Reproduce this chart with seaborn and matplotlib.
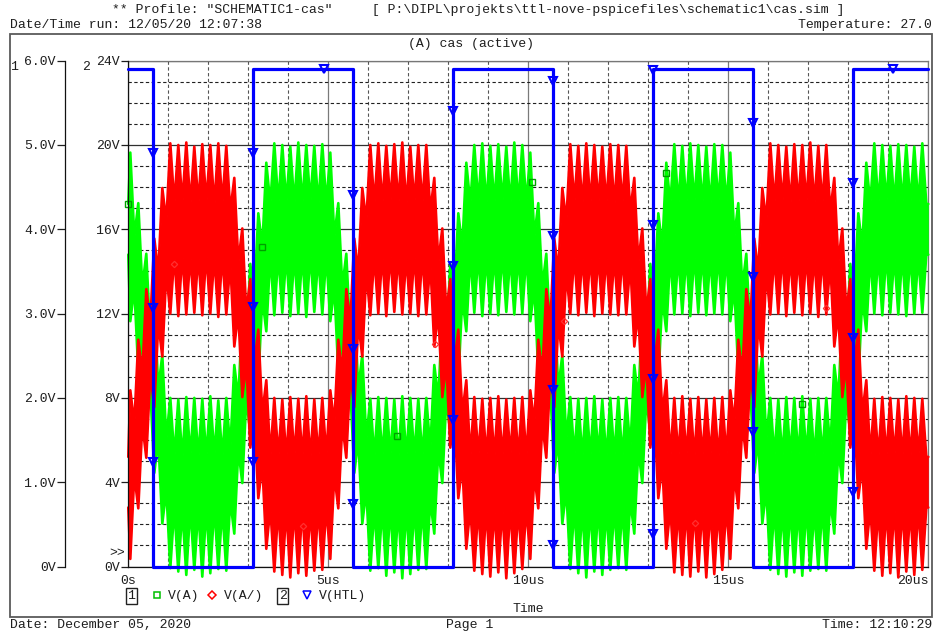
import numpy as np
import pandas as pd
import matplotlib
matplotlib.use("Agg")
import matplotlib.pyplot as plt
from matplotlib.lines import Line2D
from matplotlib.patches import Rectangle
from matplotlib.ticker import MultipleLocator
import seaborn as sns

sns.set_theme(style="white")
plt.rcParams["font.family"] = ["Liberation Mono", "DejaVu Sans Mono"]
plt.rcParams["axes.unicode_minus"] = False

FS = 9.45
INK = "#1e1e1e"

# ---------------------------------------------------------------- data
# Ringing on the TTL outputs, one burst per 0.2 us cycle: the band reaches
# peak/trough at the burst, and narrows around its mid level between bursts.
ring_t0 = 0.05          # us, time of the first burst
ring_period = 0.2       # us
beat_half = 0.30        # V, half width of the band between bursts

# V(A), axis 1 [V]
a_peak = [4.91, 4.31, 3.71, 3.11, 2.51,
          2.00, 1.98, 2.01, 2.00, 1.99, 2.02, 1.97,
          2.00, 2.39, 2.99, 3.59, 4.19, 4.79,
          5.02, 5.00, 4.98, 5.03, 5.00, 4.99, 5.01,
          4.91, 4.31, 3.71, 3.11, 2.51,
          1.99, 2.01, 2.00, 1.98, 2.02, 2.00, 1.99,
          2.00, 2.39, 2.99, 3.59, 4.19, 4.79,
          5.00, 5.02, 4.99, 5.01, 4.98, 5.03, 5.00,
          4.91, 4.31, 3.71, 3.11, 2.51,
          2.01, 1.99, 2.00, 2.02, 1.98, 2.00, 2.01,
          2.00, 2.39, 2.99, 3.59, 4.19, 4.79,
          5.01, 4.99, 5.02, 5.00, 4.98, 5.01, 5.00,
          4.91, 4.31, 3.71, 3.11, 2.51,
          2.00, 1.98, 2.01, 2.00, 2.02, 1.99, 2.00,
          2.00, 2.39, 2.99, 3.59, 4.19, 4.79,
          5.02, 5.00, 4.99, 5.01, 5.00, 4.98, 5.02]
a_trough = [2.91, 2.31, 1.71, 1.11, 0.51,
            -0.02, -0.06, -0.10, -0.04, -0.12, -0.08, -0.03,
            -0.05, 0.39, 0.99, 1.59, 2.19, 2.79,
            2.98, 3.01, 2.97, 3.00, 2.96, 3.02, 2.99,
            2.91, 2.31, 1.71, 1.11, 0.51,
            -0.05, -0.02, -0.11, -0.07, -0.14, -0.09, -0.04,
            -0.03, 0.39, 0.99, 1.59, 2.19, 2.79,
            3.01, 2.97, 3.00, 2.98, 3.02, 2.99, 3.00,
            2.91, 2.31, 1.71, 1.11, 0.51,
            -0.03, -0.08, -0.13, -0.06, -0.10, -0.04, -0.02,
            -0.04, 0.39, 0.99, 1.59, 2.19, 2.79,
            2.99, 3.00, 2.97, 3.01, 2.98, 3.00, 2.99,
            2.91, 2.31, 1.71, 1.11, 0.51,
            -0.04, -0.09, -0.12, -0.07, -0.11, -0.05, -0.03,
            -0.05, 0.39, 0.99, 1.59, 2.19, 2.79,
            3.00, 2.98, 3.01, 2.99, 2.97, 3.00, 3.01]
a_mid = [3.61, 3.01, 2.41, 1.81, 1.21,
         1.00, 0.98, 1.01, 0.99, 1.00, 1.02, 0.99,
         1.09, 1.69, 2.29, 2.89, 3.49, 4.00,
         4.00, 4.01, 3.99, 4.00, 4.02, 3.98, 4.00,
         3.61, 3.01, 2.41, 1.81, 1.21,
         0.99, 1.00, 1.01, 0.98, 1.00, 1.01, 1.00,
         1.09, 1.69, 2.29, 2.89, 3.49, 4.00,
         4.01, 3.99, 4.00, 4.02, 3.99, 4.00, 4.01,
         3.61, 3.01, 2.41, 1.81, 1.21,
         1.01, 0.99, 1.00, 1.02, 0.98, 1.00, 0.99,
         1.09, 1.69, 2.29, 2.89, 3.49, 4.00,
         3.99, 4.00, 4.01, 4.00, 3.98, 4.01, 4.00,
         3.61, 3.01, 2.41, 1.81, 1.21,
         1.00, 0.99, 1.01, 1.00, 1.02, 0.98, 1.00,
         1.09, 1.69, 2.29, 2.89, 3.49, 4.00,
         4.00, 4.02, 3.99, 4.00, 4.01, 3.99, 4.00]
a_start = (4.30, 3.70)
a_end = (4.30, 3.70)

# V(A/), axis 1 [V]
r_peak = [2.09, 2.69, 3.29, 3.89, 4.49,
          5.02, 5.00, 5.03, 4.98, 5.01, 5.00, 5.02,
          4.99, 4.61, 4.01, 3.41, 2.81, 2.21,
          2.00, 1.98, 2.01, 1.99, 2.02, 1.98, 2.00,
          2.09, 2.69, 3.29, 3.89, 4.49,
          5.00, 5.02, 4.99, 5.01, 5.03, 4.98, 5.00,
          5.00, 4.61, 4.01, 3.41, 2.81, 2.21,
          2.01, 1.99, 2.00, 2.02, 1.98, 2.00, 2.01,
          2.09, 2.69, 3.29, 3.89, 4.49,
          5.01, 4.99, 5.02, 5.00, 4.98, 5.01, 5.00,
          4.99, 4.61, 4.01, 3.41, 2.81, 2.21,
          2.00, 2.02, 1.99, 2.01, 1.98, 2.00, 2.01,
          2.09, 2.69, 3.29, 3.89, 4.49,
          5.02, 5.00, 4.98, 5.01, 5.00, 5.03, 4.99,
          5.00, 4.61, 4.01, 3.41, 2.81, 2.21,
          1.99, 2.01, 2.00, 1.98, 2.02, 2.00, 1.99]
r_trough = [0.09, 0.69, 1.29, 1.89, 2.49,
            3.00, 2.97, 2.99, 3.01, 2.98, 3.00, 2.96,
            2.99, 2.61, 2.01, 1.41, 0.81, 0.21,
            -0.06, -0.10, -0.13, -0.08, -0.11, -0.05, -0.04,
            0.09, 0.69, 1.29, 1.89, 2.49,
            2.98, 3.00, 2.97, 3.02, 2.99, 3.00, 2.97,
            2.99, 2.61, 2.01, 1.41, 0.81, 0.21,
            -0.05, -0.09, -0.12, -0.07, -0.14, -0.08, -0.03,
            0.09, 0.69, 1.29, 1.89, 2.49,
            3.00, 2.98, 3.01, 2.97, 3.00, 2.99, 2.98,
            2.99, 2.61, 2.01, 1.41, 0.81, 0.21,
            -0.07, -0.10, -0.12, -0.06, -0.13, -0.09, -0.04,
            0.09, 0.69, 1.29, 1.89, 2.49,
            2.99, 3.00, 2.97, 3.01, 2.98, 3.00, 2.96,
            2.99, 2.61, 2.01, 1.41, 0.81, 0.21,
            -0.05, -0.11, -0.08, -0.13, -0.06, -0.10, -0.04]
r_mid = [1.39, 1.99, 2.59, 3.19, 3.79,
         4.00, 4.01, 3.99, 4.00, 4.02, 3.98, 4.00,
         3.91, 3.31, 2.71, 2.11, 1.51, 1.00,
         1.00, 0.99, 1.01, 1.00, 0.98, 1.00, 1.01,
         1.39, 1.99, 2.59, 3.19, 3.79,
         3.99, 4.00, 4.02, 4.00, 3.98, 4.01, 4.00,
         3.91, 3.31, 2.71, 2.11, 1.51, 1.00,
         1.01, 1.00, 0.99, 1.00, 1.02, 0.99, 1.00,
         1.39, 1.99, 2.59, 3.19, 3.79,
         4.01, 3.99, 4.00, 4.01, 4.00, 3.98, 4.00,
         3.91, 3.31, 2.71, 2.11, 1.51, 1.00,
         1.00, 1.01, 0.99, 1.00, 1.01, 0.98, 1.00,
         1.39, 1.99, 2.59, 3.19, 3.79,
         4.00, 4.02, 3.99, 4.00, 4.01, 3.99, 4.00,
         3.91, 3.31, 2.71, 2.11, 1.51, 1.00,
         0.99, 1.00, 1.01, 1.00, 0.99, 1.01, 1.00]
r_start = (1.30, 0.70)
r_end = (1.30, 0.70)

# V(HTL), axis 2 [V]
htl_t = [0.0, 0.62, 0.62, 3.12, 3.12, 5.62, 5.62, 8.12, 8.12,
         10.62, 10.62, 13.12, 13.12, 15.62, 15.62, 18.12, 18.12, 20.0]
htl_v = [23.6, 23.6, 0.0, 0.0, 23.6, 23.6, 0.0, 0.0, 23.6,
         23.6, 0.0, 0.0, 23.6, 23.6, 0.0, 0.0, 23.6, 23.6]

x_ticks = [0, 5, 10, 15, 20]
x_labels = ["0s", "5us", "10us", "15us", "20us"]
y1_ticks = [0, 1, 2, 3, 4, 5, 6]
y1_labels = ["0V", "1.0V", "2.0V", "3.0V", "4.0V", "5.0V", "6.0V"]
y2_ticks = [0, 4, 8, 12, 16, 20, 24]
y2_labels = ["0V", "4V", "8V", "12V", "16V", "20V", "24V"]

# ---------------------------------------------------------------- table
t_burst = ring_t0 + ring_period * np.arange(len(a_peak))
t_between = t_burst + ring_period / 2


def weave(first, at_burst, between, last):
    return np.concatenate([[first], np.column_stack([at_burst, between]).ravel(), [last]])


band = pd.DataFrame({
    "t": weave(0.0, t_burst, t_between, 20.0),
    "A_hi": weave(a_start[0], a_peak, np.add(a_mid, beat_half), a_end[0]),
    "A_lo": weave(a_start[1], a_trough, np.subtract(a_mid, beat_half), a_end[1]),
    "R_hi": weave(r_start[0], r_peak, np.add(r_mid, beat_half), r_end[0]),
    "R_lo": weave(r_start[1], r_trough, np.subtract(r_mid, beat_half), r_end[1]),
})

# ---------------------------------------------------------------- figure
W, H = 936.0, 632.0
fig = plt.figure(figsize=(W / 100, H / 100), dpi=100)
fig.patch.set_facecolor("white")


def fx(px):
    return px / W


def fy(py):
    return 1 - py / H


L, R, T, B = 128.3, 928.3, 60.7, 566.5
ax = fig.add_axes([fx(L), fy(B), (R - L) / W, (B - T) / H])
ax.set_facecolor("white")

GREEN, RED, BLUE = "#00ff00", "#ff0000", "#0000ff"
EDGE_LW = 1.9

for key, col, z in (("A", GREEN, 3), ("R", RED, 4)):
    ax.fill_between(band["t"], band[key + "_lo"], band[key + "_hi"], color=col,
                    lw=0, zorder=z, clip_on=False)
    for side in ("_hi", "_lo"):
        sns.lineplot(data=band, x="t", y=key + side, ax=ax, color=col, lw=EDGE_LW,
                     estimator=None, sort=False, zorder=z, legend=False, clip_on=False)
ax.set_xlim(0, 20)
ax.set_ylim(0, 6)
ax.set_xlabel("")
ax.set_ylabel("")

# grid: solid at labelled values, dashed in between
ax.xaxis.set_minor_locator(MultipleLocator(1))
ax.yaxis.set_minor_locator(MultipleLocator(0.25))
ax.grid(True, which="major", axis="y", color="#303030", lw=0.9, ls="-")
ax.grid(True, which="major", axis="x", color="#7a7a7a", lw=0.9, ls="-")
ax.grid(True, which="minor", axis="y", color="#202020", lw=0.8, ls=(0, (3, 2.2)))
ax.grid(True, which="minor", axis="x", color="#555555", lw=0.8, ls=(0, (3, 2.2)))
ax.set_axisbelow(True)

ax.set_xticks(x_ticks)
ax.set_xticklabels(x_labels)
ax.get_xticklabels()[-1].set_ha("right")
ax.set_yticks(y1_ticks)
ax.set_yticklabels(y1_labels)
ax.tick_params(axis="x", which="major", direction="out", length=4, width=0.9,
               pad=2, labelsize=FS, colors=INK)
ax.tick_params(axis="y", which="major", direction="out", length=5.5, width=0.9,
               pad=1, labelsize=FS, colors=INK)
ax.tick_params(which="minor", length=0)

ax.spines["left"].set_position(("outward", (L - 65) * 0.72))
ax.spines["left"].set_color("#111111")
ax.spines["bottom"].set_color("#111111")
for s in ("top", "right"):
    ax.spines[s].set_color("#777777")
for s in ax.spines.values():
    s.set_linewidth(0.9)

# second y axis for the HTL output, drawn on the plot's left edge
ax2 = ax.twinx()
sns.lineplot(x=htl_t, y=htl_v, ax=ax2, color=BLUE, lw=2.3,
             estimator=None, sort=False, zorder=5, legend=False, clip_on=False)
ax2.set_ylim(0, 24)
ax2.set_ylabel("")
ax2.grid(False)
ax2.set_yticks(y2_ticks)
ax2.set_yticklabels(y2_labels)
ax2.yaxis.tick_left()
ax2.tick_params(axis="y", which="major", direction="out", length=5, width=0.9,
                pad=1, labelsize=FS, colors=INK, left=True, labelleft=True,
                right=False, labelright=False)
for s in ("top", "right", "bottom"):
    ax2.spines[s].set_visible(False)
ax2.spines["left"].set_visible(True)
ax2.spines["left"].set_color("#111111")
ax2.spines["left"].set_linewidth(0.9)


def marks_along(a, xs, ys, step, first):
    """Points spaced evenly (in screen pixels) along a drawn polyline."""
    pts = a.transData.transform(np.column_stack([xs, ys]))
    seg = np.hypot(*np.diff(pts, axis=0).T)
    s = np.concatenate([[0.0], np.cumsum(seg)])
    at = np.arange(first, s[-1], step)
    p = np.column_stack([np.interp(at, s, pts[:, 0]), np.interp(at, s, pts[:, 1])])
    return a.transData.inverted().transform(p)


gm = marks_along(ax, band["t"], band["A_hi"], 2000, 0)
ax.plot(gm[:, 0], gm[:, 1], ls="none", marker="s", ms=4.2, mfc="none",
        mec="#00a000", mew=1.0, zorder=6, clip_on=False)
rm = marks_along(ax, band["t"], band["R_lo"], 2000, 700)
ax.plot(rm[:, 0], rm[:, 1], ls="none", marker="D", ms=3.2, mfc="none",
        mec="#ff3030", mew=0.9, zorder=6, clip_on=False)
bm = marks_along(ax2, htl_t, htl_v, 154.5, 109)
bm = bm[bm[:, 1] > 0.5]          # no markers along the 0 V floor
ax2.plot(bm[:, 0], bm[:, 1], ls="none", marker="v", ms=5.2, mfc="none",
         mec=BLUE, mew=1.5, zorder=6, clip_on=False)

# ---------------------------------------------------------------- page text
def txt(px, py, s, ha="left", **kw):
    fig.text(fx(px), fy(py), s, ha=ha, va="center", fontsize=FS, color=INK, **kw)


txt(112, 10, r'** Profile: "SCHEMATIC1-cas"     [ P:\DIPL\projekts\ttl-nove-pspicefiles\schematic1\cas.sim ]')
txt(10, 25, "Date/Time run: 12/05/20 12:07:38")
txt(932, 25, "Temperature: 27.0", ha="right")
txt(471, 44, "(A) cas (active)", ha="center")
txt(11, 67, "1")
txt(82, 67, "2")
txt(109, 553, ">>")
txt(528, 609, "Time", ha="center")
txt(10, 625, "Date: December 05, 2020")
txt(470, 625, "Page 1", ha="center")
txt(932, 625, "Time: 12:10:29", ha="right")

# legend row below the plot
box = dict(boxstyle="square,pad=0.12", fc="white", ec="#222222", lw=1.0)
txt(128, 596, "1", bbox=box)
txt(279, 596, "2", bbox=box)
for px, mk, col, ms in ((157, "s", "#00c000", 4.2), (212, "D", "#ff0000", 3.6),
                        (307, "v", BLUE, 5.5)):
    fig.add_artist(Line2D([fx(px)], [fy(595)], transform=fig.transFigure, ls="none",
                          marker=mk, ms=ms, mfc="none", mec=col, mew=1.1))
txt(168, 596, "V(A)")
txt(224, 596, "V(A/)")
txt(319, 596, "V(HTL)")

# page frame
fig.add_artist(Rectangle((fx(10), fy(617)), (932 - 10) / W, (617 - 34) / H,
                         transform=fig.transFigure, fill=False, ec="#5a5a5a", lw=1.3))

fig.savefig("out.png", dpi=100, facecolor="white")
